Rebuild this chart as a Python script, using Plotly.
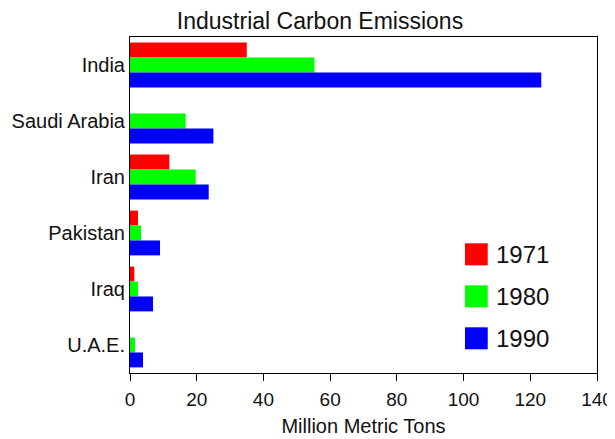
"""Horizontal grouped bar chart: industrial carbon emissions by country."""

import plotly.graph_objects as go

COUNTRIES = ["India", "Saudi Arabia", "Iran", "Pakistan", "Iraq", "U.A.E."]
YEARS = ["1971", "1980", "1990"]
EMISSIONS_1971 = [35, 0, 11.8, 2.4, 1.3, 0]
EMISSIONS_1980 = [55.3, 16.7, 19.7, 3.3, 2.4, 1.5]
EMISSIONS_1990 = [123.3, 25.0, 23.6, 9.0, 6.9, 3.9]

COLOURS = {"1971": "#ff0000", "1980": "#00ff00", "1990": "#0000ff"}

FONT = "Liberation Sans, Arial, sans-serif"

# the page body keeps its default 8px margin, so the figure is 8px smaller
FIG_W, FIG_H = 607, 431

fig = go.Figure()
for year, values in zip(YEARS, [EMISSIONS_1971, EMISSIONS_1980, EMISSIONS_1990]):
    fig.add_trace(
        go.Bar(
            x=values,
            y=COUNTRIES,
            orientation="h",
            name=year,
            marker=dict(color=COLOURS[year], line=dict(width=0)),
            showlegend=False,
        )
    )

# hand-drawn legend inside the plot area (big square swatches)
for i, year in enumerate(YEARS):
    top = 0.386 - i * 0.125
    fig.add_shape(
        type="rect",
        xref="paper", yref="paper",
        x0=0.7173, x1=0.766, y0=top - 0.0655, y1=top,
        fillcolor=COLOURS[year],
        line=dict(width=0),
    )
    fig.add_annotation(
        xref="paper", yref="paper",
        x=0.78, y=top - 0.033,
        xanchor="left", yanchor="middle",
        text=year, showarrow=False,
        font=dict(size=24, color="#111"),
    )

fig.update_layout(
    width=FIG_W,
    height=FIG_H,
    margin=dict(l=122, r=18, t=29, b=66),
    paper_bgcolor="white",
    plot_bgcolor="white",
    font=dict(family=FONT, size=20, color="#111"),
    title=dict(
        text="Industrial Carbon Emissions",
        x=0.514,
        xanchor="center",
        y=0.970,
        yanchor="middle",
        font=dict(size=23, color="#111"),
    ),
    barmode="group",
    bargap=0.2,
    bargroupgap=0,
    xaxis=dict(
        range=[0, 140],
        dtick=20,
        ticks="outside",
        ticklen=7,
        tickcolor="black",
        tickfont=dict(size=19),
        ticklabelstandoff=2,
        showline=True,
        linecolor="black",
        linewidth=1,
        mirror=True,
        showgrid=False,
        zeroline=False,
        automargin=False,
        title=dict(text="Million Metric Tons", font=dict(size=20), standoff=10),
    ),
    yaxis=dict(
        autorange="reversed",
        showline=True,
        linecolor="black",
        linewidth=1,
        mirror=True,
        showgrid=False,
        ticks="",
        automargin=False,
    ),
)

fig.write_html("out.html")
